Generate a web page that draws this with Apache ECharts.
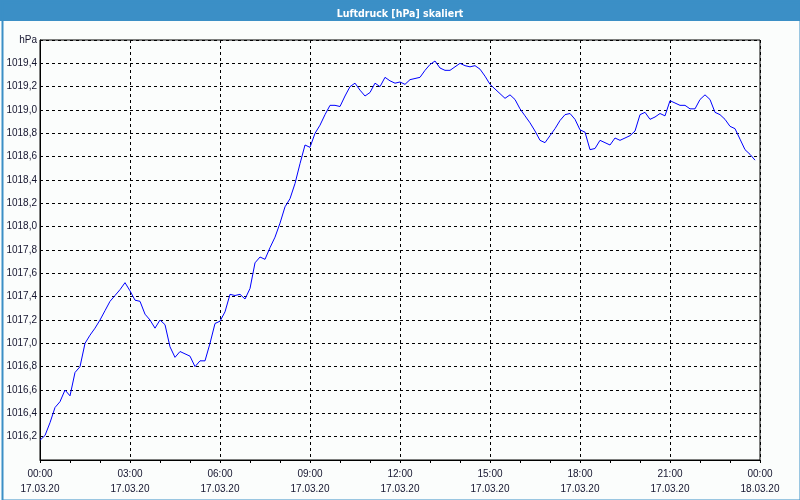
<!DOCTYPE html>
<html>
<head>
<meta charset="utf-8">
<script src="https://cdn.jsdelivr.net/npm/echarts@6/dist/echarts.min.js"></script>
<style>html,body{margin:0;padding:0;background:#fbfdfc;}#c{width:800px;height:500px;}</style>
</head>
<body>
<div id="c"></div>
<script>
// time in minutes since 17.03.20 00:00 (10-minute steps)
const minutes = [];
for (let i = 0; i < 144; i++) minutes.push(i * 10);
const pressure = [
1016.17,1016.21,1016.32,1016.45,1016.50,1016.60,1016.55,1016.75,1016.80,1017.00,
1017.07,1017.13,1017.20,1017.28,1017.36,1017.41,1017.46,1017.52,1017.45,1017.37,
1017.36,1017.25,1017.20,1017.13,1017.20,1017.16,1016.97,1016.88,1016.93,1016.91,
1016.89,1016.80,1016.85,1016.85,1017.00,1017.17,1017.19,1017.27,1017.42,1017.41,
1017.42,1017.38,1017.47,1017.69,1017.74,1017.72,1017.82,1017.91,1018.03,1018.17,
1018.24,1018.37,1018.54,1018.70,1018.68,1018.80,1018.87,1018.96,1019.04,1019.04,
1019.03,1019.12,1019.20,1019.23,1019.17,1019.12,1019.15,1019.23,1019.20,1019.28,
1019.25,1019.23,1019.24,1019.22,1019.26,1019.27,1019.28,1019.34,1019.39,1019.42,
1019.36,1019.34,1019.34,1019.37,1019.40,1019.38,1019.37,1019.38,1019.35,1019.29,
1019.22,1019.18,1019.14,1019.10,1019.13,1019.09,1019.01,1018.95,1018.89,1018.82,
1018.74,1018.72,1018.78,1018.84,1018.91,1018.96,1018.97,1018.92,1018.83,1018.81,
1018.66,1018.67,1018.74,1018.72,1018.70,1018.76,1018.74,1018.76,1018.78,1018.82,
1018.96,1018.98,1018.92,1018.94,1018.97,1018.95,1019.08,1019.06,1019.04,1019.04,
1019.01,1019.01,1019.09,1019.13,1019.09,1018.98,1018.96,1018.92,1018.86,1018.84,
1018.75,1018.66,1018.62,1018.57
];
const xTickLabels = ['00:00\n17.03.20','03:00\n17.03.20','06:00\n17.03.20','09:00\n17.03.20','12:00\n17.03.20','15:00\n17.03.20','18:00\n17.03.20','21:00\n17.03.20','00:00\n18.03.20'];
const yUnit = 'hPa';
const title = 'Luftdruck [hPa] skaliert';

const data = minutes.map((m, i) => [m, pressure[i]]);
const chart = echarts.init(document.getElementById('c'), null, {renderer: 'canvas'});
const txt = '#14142e';
chart.setOption({
  backgroundColor: '#fbfdfc',
  animation: false,
  graphic: [
    {type: 'rect', left: 0, top: 0, shape: {x: 0, y: 0, width: 800, height: 21}, style: {fill: '#3b8fc6'}, z: 0},
    {type: 'rect', left: 0, top: 0, shape: {x: 1, y: 1, width: 798, height: 498}, style: {fill: 'none', stroke: '#3b8fc6', lineWidth: 2}, z: 0}
  ],
  title: {
    text: title, left: 'center', top: 4,
    textStyle: {color: '#ffffff', fontFamily: 'DejaVu Sans Condensed', fontSize: 10.5, fontWeight: 'bold'}
  },
  grid: {left: 40, right: 40, top: 40, bottom: 40, show: true, borderColor: '#000', borderWidth: 1, backgroundColor: 'transparent'},
  xAxis: {
    type: 'value', min: 0, max: 1440, interval: 180,
    axisLine: {lineStyle: {color: '#000', width: 1}},
    axisTick: {show: true, length: 3, lineStyle: {color: '#000'}},
    minorTick: {show: true, splitNumber: 3, length: 3, lineStyle: {color: '#000'}},
    splitLine: {show: true, lineStyle: {color: '#000', type: [3, 3], width: 1}},
    axisLabel: {
      color: txt, fontFamily: 'Liberation Sans', fontSize: 10, lineHeight: 15, margin: 7,
      formatter: v => xTickLabels[Math.round(v / 180)] || ''
    }
  },
  yAxis: {
    type: 'value', min: 1016.0, max: 1019.6, interval: 0.2,
    axisLine: {show: true, lineStyle: {color: '#000', width: 1}},
    axisTick: {show: false},
    splitLine: {show: true, lineStyle: {color: '#000', type: [3, 3], width: 1}},
    axisLabel: {
      color: txt, fontFamily: 'Liberation Sans', fontSize: 10, margin: 3,
      formatter: v => {
        if (Math.abs(v - 1019.6) < 1e-6) return yUnit;
        if (Math.abs(v - 1016.0) < 1e-6) return '';
        return v.toFixed(1).replace('.', ',');
      }
    }
  },
  series: [{
    type: 'line', data: data, showSymbol: false, symbol: 'none',
    lineStyle: {color: '#0000ff', width: 1}
  }]
});
</script>
</body>
</html>
